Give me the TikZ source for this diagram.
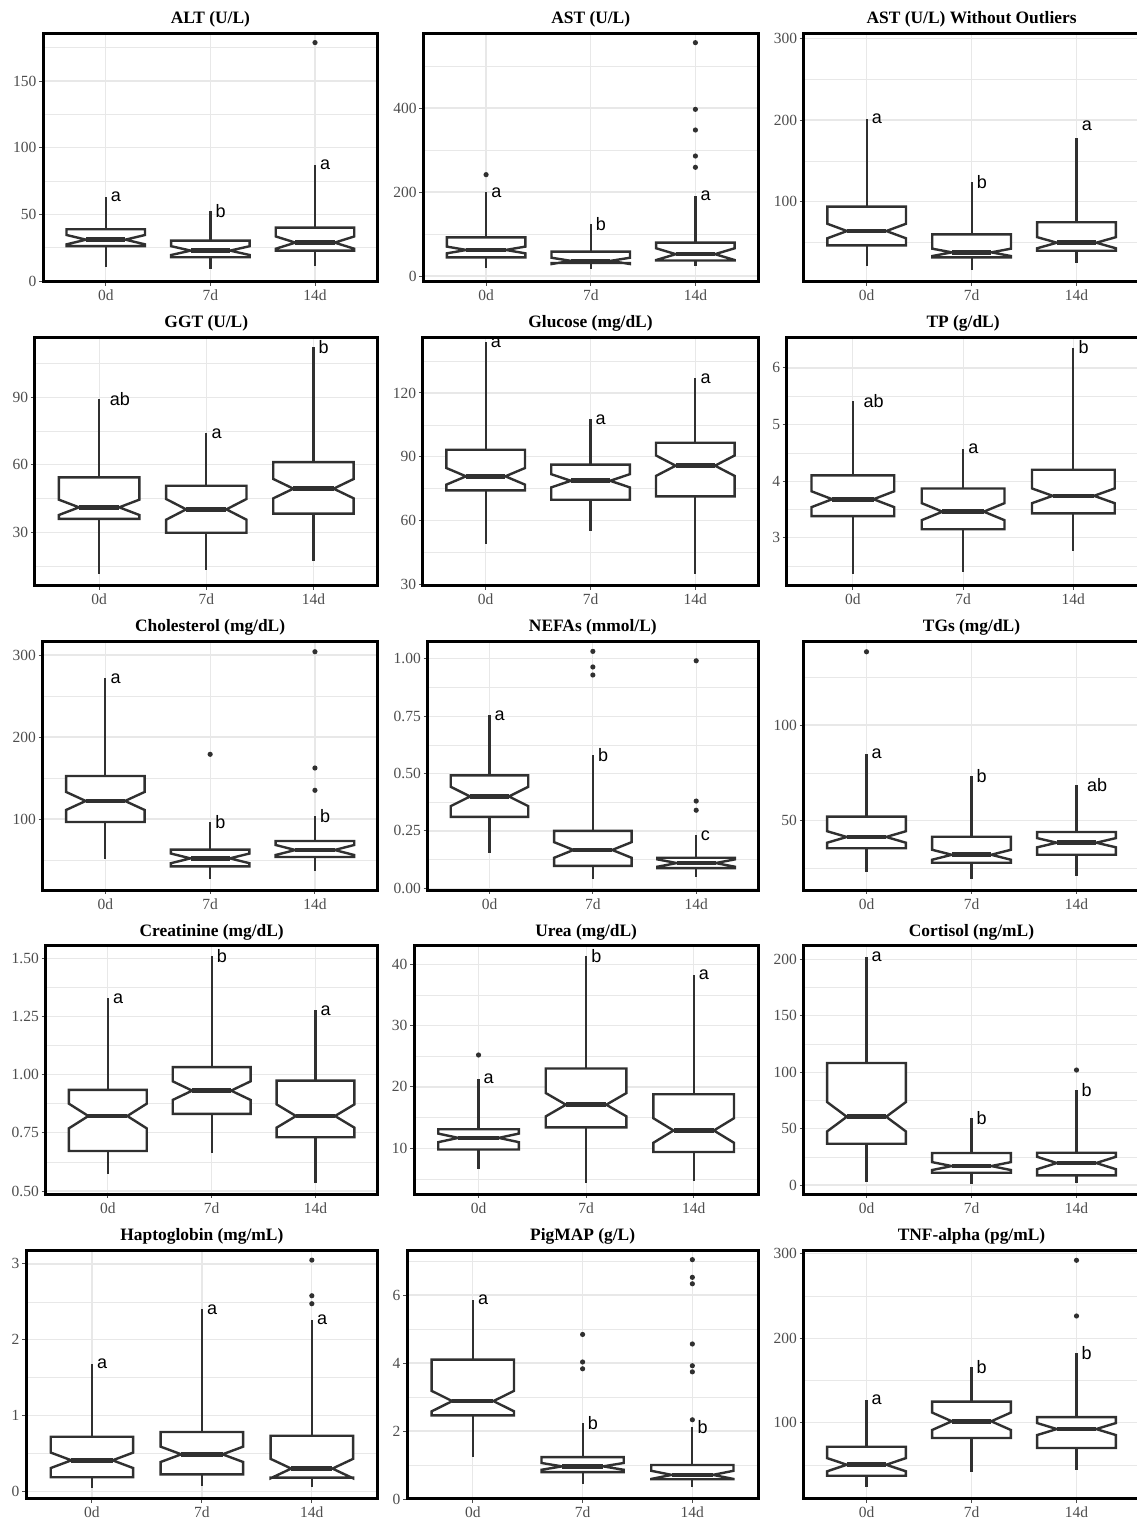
\documentclass[tikz,border=0pt]{standalone}
\usepackage{fontspec}
\setmainfont{Liberation Serif}
\newfontfamily\lsans{Liberation Sans}
\definecolor{gridc}{RGB}{232,232,232}
\definecolor{dk}{RGB}{48,48,48}
\definecolor{tickc}{RGB}{77,77,77}
\tikzset{
  gmaj/.style={draw=gridc, line width=1.2pt},
  gmin/.style={draw=gridc, line width=0.6pt},
  border/.style={draw=black, line width=3pt},
  tickmark/.style={draw=tickc, line width=1pt},
  ticklab/.style={text=tickc, inner sep=0pt, font=\fontsize{15.5}{18}\selectfont},
  ttl/.style={inner sep=0pt, anchor=base, font=\bfseries\fontsize{17.4}{20}\selectfont},
  bxs/.style={draw=dk, fill=white, line width=2.4pt, line join=miter},
  wh/.style={draw=dk, line width=2.2pt},
  med/.style={draw=dk, line width=4.6pt},
  outl/.style={fill=dk},
  lbl/.style={inner sep=0pt, anchor=west, font=\lsans\fontsize{18}{20}\selectfont}
}
% #1 L, #2 R, #3 T, #4 B, #5 px of value 0, #6 px per unit, #7 title, #8 majors, #9 minors
\newcommand\mkpanel[9]{%
  \pgfmathsetmacro\pL{#1}\pgfmathsetmacro\pR{#2}%
  \pgfmathsetmacro\pT{#3}\pgfmathsetmacro\pB{#4}%
  \pgfmathsetmacro\xa{#1+(#2-#1)*0.1875}%
  \pgfmathsetmacro\xb{#1+(#2-#1)*0.5}%
  \pgfmathsetmacro\xc{#1+(#2-#1)*0.8125}%
  \pgfmathsetmacro\bw{(#2-#1)*0.1171875}%
  \pgfmathsetmacro\ind{\bw*0.5}%
  \node[ttl] (title) at ({(#1+#2)/2},#3-9.75) {#7};
  \foreach \xx in {\xa,\xb,\xc} {\draw[gmaj] (\xx,#3) -- (\xx,#4);}
  \foreach \xx/\xt in {\xa/0d,\xb/7d,\xc/14d} {%
    \draw[tickmark] (\xx,#4) -- (\xx,#4+4);
    \node[ticklab, anchor=base] at (\xx,#4+19) {\xt};}
  \begin{scope}[yshift=-#5pt, y=#6pt]
  \foreach \yv in {#9} {\draw[gmin] (#1,\yv) -- (#2,\yv);}
  \foreach \yv/\ytxt in {#8} {%
    \draw[gmaj] (#1,\yv) -- (#2,\yv);
    \draw[tickmark] (#1-4,\yv) -- (#1,\yv);
    \node[ticklab, anchor=east] at (#1-6.5,\yv) {\ytxt};}
}
\newcommand\closepanel{%
  \end{scope}
  \draw[border] (\pL,\pT) rectangle (\pR,\pB);
}
% box: x, {wlo,lo,nlo,med,nup,up,whi}
\newcommand\bx[2]{\bxp{#1}#2\relax}
\def\bxp#1#2,#3,#4,#5,#6,#7,#8\relax{%
  \draw[wh] (#1,#7) -- (#1,#8) (#1,#3) -- (#1,#2);
  \draw[bxs] (#1-\bw,#7) -- (#1-\bw,#6) -- (#1-\bw+\ind,#5) -- (#1-\bw,#4) -- (#1-\bw,#3)
    -- (#1+\bw,#3) -- (#1+\bw,#4) -- (#1+\bw-\ind,#5) -- (#1+\bw,#6) -- (#1+\bw,#7) -- cycle;
  \draw[med] (#1-\bw+\ind,#5) -- (#1+\bw-\ind,#5);
}
\newcommand\pts[2]{\foreach \pv in {#2} {\fill[outl] (#1,\pv) circle (2.6pt);}}
\newcommand\lab[4]{\node[lbl, xshift=#4pt] at (#1,#2) {#3};}
\begin{document}
\begin{tikzpicture}[x=1pt, y=-1pt]
\useasboundingbox (0,0) rectangle (1137,1518);
\fill[white] (0,0) rectangle (1137,1518);
% ---------------- Row 1
\mkpanel{43}{377.8}{33}{281.5}{281}{1.3333}{ALT (U/L)}{0/0,50/50,100/100,150/150}{25,75,125,175}
\bx{\xa}{10.3,26.2,27.5,31,34.5,38.8,63.2}
\bx{\xb}{8.8,17.8,19.5,22.8,26.1,30.3,52.8}
\bx{\xc}{11.5,22.8,24.2,28.8,33.4,40,87}
\pts{\xc}{178.8}
\lab{\xa}{63.2}{a}{5}\lab{\xb}{52.8}{b}{5}\lab{\xc}{87}{a}{5}
\closepanel
\mkpanel{423.3}{758.2}{33}{281.5}{276}{0.42}{AST (U/L)}{0/0,200/200,400/400}{100,300,500}
\bx{\xa}{18.3,44.5,54,62,70,92.1,199.3}
\bx{\xb}{16,31,28.5,36,43.5,58,123}
\bx{\xc}{23.8,37,38,52,66,79.5,190.5}
\pts{\xa}{241.3}
\pts{\xc}{555.6,396.8,347.6,285.7,258.8}
\lab{\xa}{199.3}{a}{5}\lab{\xb}{123}{b}{5}\lab{\xc}{190.5}{a}{5}
\closepanel
\mkpanel{803.7}{1139.5}{33}{281.5}{283.4}{0.817}{AST (U/L) Without Outliers}{100/100,200/200,300/300}{50,150,250}
\bx{\xa}{21.3,46.6,55.2,64.1,73,93.9,201.2}
\bx{\xb}{16.4,31.9,33.5,38,42.5,60.1,124.5}
\bx{\xc}{24.6,40,43,49.8,56.6,74.8,178.3}
\lab{\xa}{201.2}{a}{5}\lab{\xb}{124.5}{b}{5}\lab{\xc}{192.6}{a}{5}
\closepanel
% ---------------- Row 2
\mkpanel{34.8}{377.8}{337.3}{585.8}{599.8}{2.25}{GGT (U/L)}{30/30,60/60,90/90}{15,45,75,105}
\bx{\xa}{11.3,36,37.7,41.1,44.5,54.4,89.1}
\bx{\xb}{13.2,29.8,35.6,40.2,44.8,50.7,74}
\bx{\xc}{17.2,38.3,45.1,49.4,53.7,61.2,112.2}
\lab{\xa}{89.1}{ab}{10.5}\lab{\xb}{74}{a}{5}\lab{\xc}{112.2}{b}{5}
\closepanel
\mkpanel{422.8}{758.2}{337.3}{585.8}{648.1}{2.126}{Glucose (mg/dL)}{30/30,60/60,90/90,120/120}{45,75,105,135}
\bx{\xa}{49.1,74.2,76.9,80.8,84.7,93.3,143.8}
\bx{\xb}{55.2,69.8,75.6,78.7,81.8,86.3,107.6}
\bx{\xc}{34.7,71.4,81,85.8,90.6,96.6,126.9}
\lab{\xa}{143.8}{a}{5}\lab{\xb}{107.6}{a}{5}\lab{\xc}{126.9}{a}{5}
\closepanel
\mkpanel{786.7}{1139.5}{337.3}{585.8}{707.5}{56.6}{TP (g/dL)}{3/3,4/4,5/5,6/6}{2.5,3.5,4.5,5.5}
\bx{\xa}{2.35,3.38,3.54,3.68,3.82,4.10,5.42}
\bx{\xb}{2.40,3.15,3.31,3.46,3.61,3.87,4.57}
\bx{\xc}{2.76,3.43,3.61,3.74,3.87,4.20,6.36}
\lab{\xa}{5.42}{ab}{10.5}\lab{\xb}{4.57}{a}{5}\lab{\xc}{6.36}{b}{5}
\closepanel
% ---------------- Row 3
\mkpanel{42.5}{377.8}{641.5}{890}{901}{0.82}{Cholesterol (mg/dL)}{100/100,200/200,300/300}{50,150,250}
\bx{\xa}{51.6,96.3,111,122,133,152.4,271.6}
\bx{\xb}{27.2,42.3,46.1,52,57.9,62.6,96}
\bx{\xc}{37,53.7,56.1,62.2,68.3,73.2,104}
\pts{\xb}{178.9}
\pts{\xc}{304,162.2,135}
\lab{\xa}{271.6}{a}{5}\lab{\xb}{96}{b}{5}\lab{\xc}{104}{b}{5}
\closepanel
\mkpanel{427.5}{758.2}{641.5}{890}{888.3}{229.6}{NEFAs (mmol/L)}{0/0.00,0.25/0.25,0.5/0.50,0.75/0.75,1/1.00}{0.125,0.375,0.625,0.875}
\bx{\xa}{0.152,0.311,0.358,0.400,0.442,0.492,0.753}
\bx{\xb}{0.042,0.098,0.133,0.167,0.201,0.250,0.579}
\bx{\xc}{0.051,0.088,0.094,0.110,0.126,0.133,0.232}
\pts{\xb}{1.032,0.964,0.929}
\pts{\xc}{0.991,0.380,0.340}
\lab{\xa}{0.753}{a}{5}\lab{\xb}{0.579}{b}{5}\lab{\xc}{0.228}{c}{4.5}
\closepanel
\mkpanel{803.5}{1139.5}{641.5}{890}{916.35}{1.913}{TGs (mg/dL)}{50/50,100/100}{25,75,125}
\bx{\xa}{23.3,35.6,38.5,41.5,44.5,52.1,84.9}
\bx{\xb}{19.7,28.0,29.6,32.2,34.8,41.6,73.5}
\bx{\xc}{21.1,32.2,36.1,38.5,40.9,44.1,68.5}
\pts{\xa}{138.3}
\lab{\xa}{84.9}{a}{5}\lab{\xb}{73.5}{b}{5}\lab{\xc}{68.5}{ab}{10.5}
\closepanel
% ---------------- Row 4
\mkpanel{45.5}{377.8}{945.8}{1194.3}{1307.45}{232.9}{Creatinine (mg/dL)}{0.5/0.50,0.75/0.75,1/1.00,1.25/1.25,1.5/1.50}{0.625,0.875,1.125,1.375}
\bx{\xa}{0.574,0.672,0.769,0.822,0.875,0.934,1.327}
\bx{\xb}{0.663,0.831,0.891,0.931,0.971,1.032,1.508}
\bx{\xc}{0.533,0.731,0.772,0.822,0.872,0.974,1.276}
\lab{\xa}{1.327}{a}{5}\lab{\xb}{1.508}{b}{5}\lab{\xc}{1.276}{a}{5}
\closepanel
\mkpanel{414}{758.2}{945.8}{1194.3}{1209.7}{6.14}{Urea (mg/dL)}{10/10,20/20,30/30,40/40}{5,15,25,35}
\bx{\xa}{6.7,9.8,11.0,11.7,12.4,13.1,21.3}
\bx{\xb}{4.3,13.4,15.2,17.1,19.0,23.0,41.3}
\bx{\xc}{4.6,9.4,10.9,12.9,14.9,18.8,38.3}
\pts{\xa}{25.2}
\lab{\xa}{21.3}{a}{5}\lab{\xb}{41.3}{b}{5}\lab{\xc}{38.3}{a}{5}
\closepanel
\mkpanel{803.5}{1139.5}{945.8}{1194.3}{1185}{1.1283}{Cortisol (ng/mL)}{0/0,50/50,100/100,150/150,200/200}{25,75,125,175}
\bx{\xa}{2.4,36.6,47.5,60.5,73.5,108.1,202.3}
\bx{\xb}{1.2,10.9,13.3,16.8,20.3,28.4,59.1}
\bx{\xc}{2.0,8.6,14.0,19.5,25.0,28.6,84.2}
\pts{\xc}{101.9}
\lab{\xa}{202.3}{a}{5}\lab{\xb}{59.1}{b}{5}\lab{\xc}{84.2}{b}{5}
\closepanel
% ---------------- Row 5
\mkpanel{26}{377.8}{1250}{1498.5}{1491.3}{75.8}{Haptoglobin (mg/mL)}{0/0,1/1,2/2,3/3}{0.5,1.5,2.5}
\bx{\xa}{0.044,0.185,0.307,0.409,0.511,0.72,1.68}
\bx{\xb}{0.066,0.224,0.387,0.488,0.589,0.782,2.40}
\bx{\xc}{0.053,0.18,0.172,0.300,0.428,0.733,2.26}
\pts{\xc}{3.05,2.58,2.475}
\lab{\xa}{1.68}{a}{5}\lab{\xb}{2.40}{a}{5}\lab{\xc}{2.26}{a}{5}
\closepanel
\mkpanel{407}{758.2}{1250}{1498.5}{1499}{34}{PigMAP (g/L)}{0/0,2/2,4/4,6/6}{1,3,5,7}
\bx{\xa}{1.24,2.46,2.58,2.88,3.18,4.10,5.85}
\bx{\xb}{0.44,0.79,0.86,0.96,1.06,1.23,2.24}
\bx{\xc}{0.34,0.58,0.59,0.71,0.83,1.0,2.12}
\pts{\xb}{4.84,4.03,3.83}
\pts{\xc}{7.04,6.52,6.33,4.56,3.92,3.74,2.33}
\lab{\xa}{5.85}{a}{5}\lab{\xb}{2.24}{b}{5}\lab{\xc}{2.12}{b}{5}
\closepanel
\mkpanel{803.5}{1139.5}{1250}{1498.5}{1507.2}{0.845}{TNF-alpha (pg/mL)}{100/100,200/200,300/300}{50,150,250}
\bx{\xa}{23.5,37.3,42.5,50.3,58.1,71.6,127.2}
\bx{\xb}{41.7,81.9,91.4,101.7,112,124.9,165.6}
\bx{\xc}{44.0,70.1,85.4,92.5,99.6,106.7,182.5}
\pts{\xc}{292.2,226.3}
\lab{\xa}{127.2}{a}{5}\lab{\xb}{165.6}{b}{5}\lab{\xc}{182.5}{b}{5}
\closepanel
\end{tikzpicture}
\end{document}
